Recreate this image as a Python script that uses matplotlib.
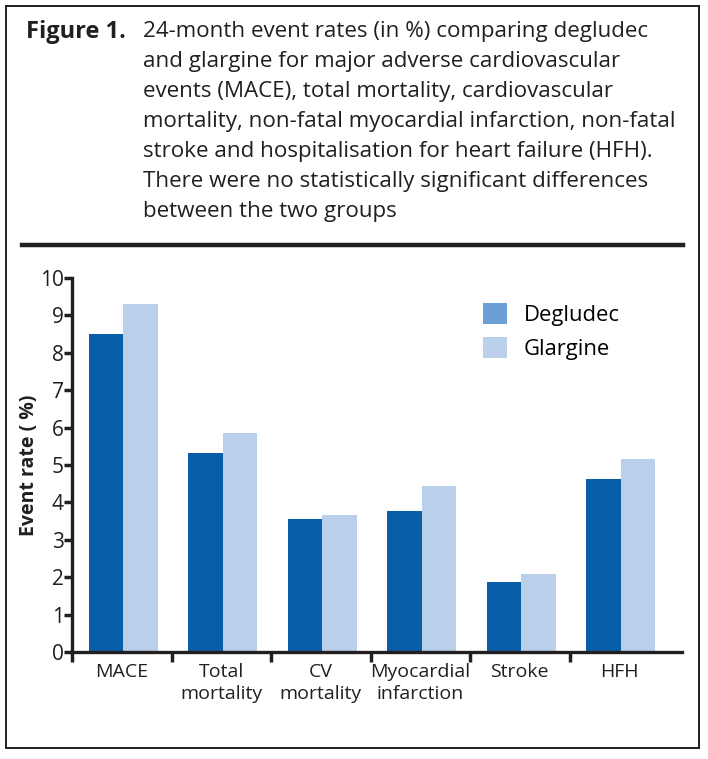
import matplotlib
matplotlib.use("Agg")
import matplotlib.pyplot as plt
from matplotlib.patches import Patch, Rectangle
from matplotlib.lines import Line2D

plt.rcParams["font.family"] = ["Open Sans", "DejaVu Sans"]

categories = ["MACE", "Total\nmortality", "CV\nmortality", "Myocardial\ninfarction",
              "Stroke", "HFH"]
degludec = [8.50, 5.32, 3.56, 3.77, 1.87, 4.63]
glargine = [9.30, 5.86, 3.66, 4.44, 2.08, 5.16]
yticks = list(range(0, 11))

title_lines = [
    "24-month event rates (in %) comparing degludec",
    "and glargine for major adverse cardiovascular",
    "events (MACE), total mortality, cardiovascular",
    "mortality, non-fatal myocardial infarction, non-fatal",
    "stroke and hospitalisation for heart failure (HFH).",
    "There were no statistically significant differences",
    "between the two groups",
]

C_DEG = "#085ea9"
C_DEG_LEG = "#6c9fd5"
C_GLA = "#b9cfea"
INK = "#231f20"

W, H = 708, 759
fig = plt.figure(figsize=(W / 100, H / 100), dpi=100)


def fx(px):
    return px / W


def fy(py):
    return 1 - py / H


# frame and rule
fig.patches.append(Rectangle((fx(6), fy(748)), fx(699) - fx(6), fy(6) - fy(748),
                             transform=fig.transFigure, fill=False,
                             edgecolor=INK, linewidth=1.4))
fig.lines.append(Line2D([fx(22), fx(683)], [fy(245), fy(245)],
                        transform=fig.transFigure, color=INK, linewidth=3.2))

# caption
fig.text(fx(26), fy(32), "Figure 1.", fontsize=17, fontweight="bold",
         color=INK, va="center")
for i, line in enumerate(title_lines):
    fig.text(fx(143), fy(32 + 30 * i), line, fontsize=16.1, color=INK, va="center")

# bars
n_px = 99.5
x0, x1, y0, y1 = 72, 682, 652, 278
ax = fig.add_axes([fx(x0), fy(y0), fx(x1) - fx(x0), fy(y1) - fy(y0)])
xs = list(range(len(categories)))
ax.bar([x - 0.5 + 0.17 for x in xs], degludec, width=0.345, align="edge",
       color=C_DEG, linewidth=0)
ax.bar([x - 0.5 + 0.515 for x in xs], glargine, width=0.345, align="edge",
       color=C_GLA, linewidth=0)

ax.set_xlim(-0.5, -0.5 + (x1 - x0) / n_px)
ax.set_ylim(0, 10)
ax.set_yticks(yticks)
ax.set_xticks(xs)
ax.set_xticklabels(categories, fontsize=14, color=INK, linespacing=1.3)
ax.set_xticks([x - 0.5 for x in xs[:-1]] + [4.5], minor=True)
ax.tick_params(axis="x", which="major", length=0, pad=8)
ax.tick_params(axis="x", which="minor", direction="out", length=7, width=2.5, color=INK)
ax.tick_params(axis="y", direction="out", length=6, width=2.5, color=INK,
               labelsize=15, labelcolor=INK, pad=0)
for s in ["top", "right"]:
    ax.spines[s].set_visible(False)
for s in ["left", "bottom"]:
    ax.spines[s].set_linewidth(2.4)
    ax.spines[s].set_color(INK)
ax.set_ylabel("Event rate ( %)", fontsize=14, fontweight="bold", color=INK)
ax.yaxis.set_label_coords(-(x0 - 39) / (x1 - x0), 0.5)

handles = [Patch(facecolor=C_DEG_LEG, edgecolor="none", label="Degludec"),
           Patch(facecolor=C_GLA, edgecolor="none", label="Glargine")]
fig.legend(handles=handles, loc="upper left", bbox_to_anchor=(fx(472), fy(292)),
           frameon=False, fontsize=15.8, handlelength=1.1, handleheight=1.1,
           handletextpad=0.75, labelspacing=0.5, borderpad=0)

fig.savefig("out.png", dpi=100)
